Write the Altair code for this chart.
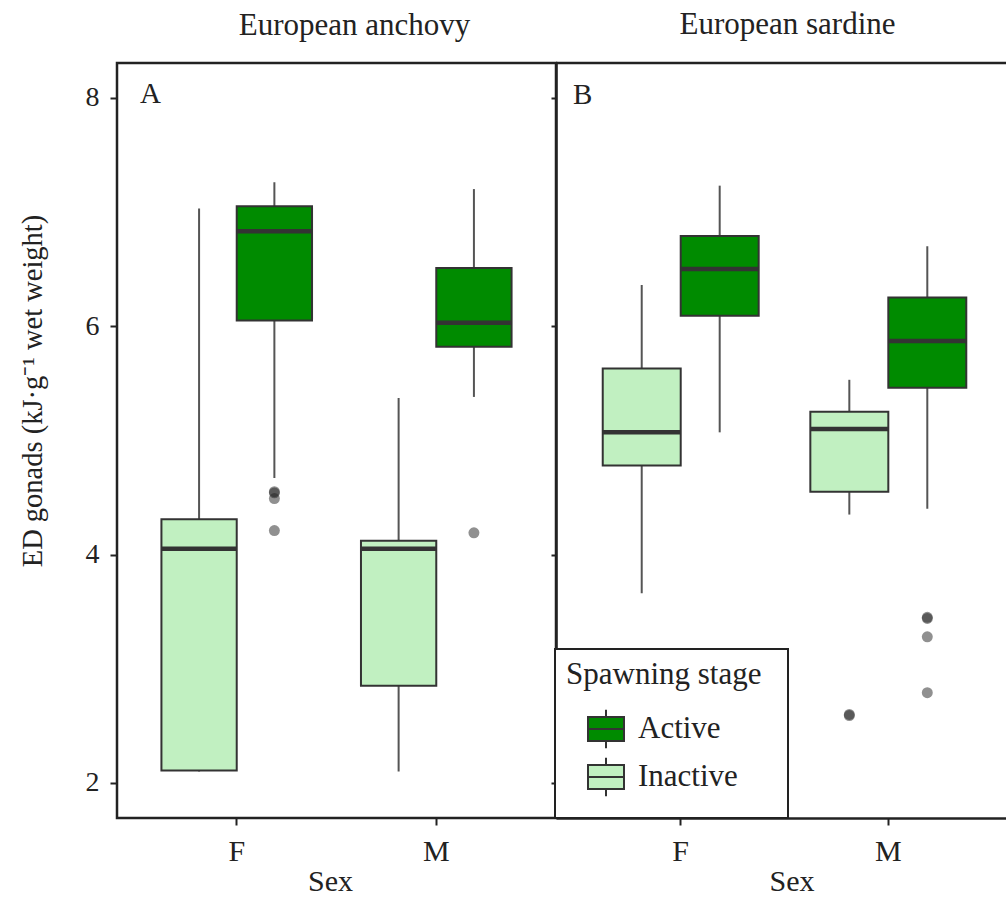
import altair as alt
import pandas as pd

FONT = "Liberation Serif"
INK = "#222222"

species_names = ["European anchovy", "European sardine"]
panel_letters = ["A", "B"]
sex_levels = ["F", "M"]
stage_levels = ["Inactive", "Active"]
legend_order = ["Active", "Inactive"]
stage_colors = ["#008B00", "#C1F0C1"]

box_species = ["European anchovy"] * 4 + ["European sardine"] * 4
box_sex = ["F", "F", "M", "M", "F", "F", "M", "M"]
box_stage = ["Inactive", "Active", "Inactive", "Active"] * 2
whisker_low = [2.10, 4.67, 2.10, 5.38, 3.66, 5.07, 4.35, 4.40]
quart_1 = [2.11, 6.05, 2.85, 5.82, 4.78, 6.09, 4.55, 5.46]
medians = [4.05, 6.83, 4.05, 6.03, 5.07, 6.50, 5.10, 5.87]
quart_3 = [4.31, 7.05, 4.12, 6.51, 5.63, 6.79, 5.25, 6.25]
whisker_high = [7.03, 7.26, 5.37, 7.20, 6.36, 7.23, 5.53, 6.70]

out_species = ["European anchovy"] * 5 + ["European sardine"] * 6
out_sex = ["F", "F", "F", "F", "M", "M", "M", "M", "M", "M", "M"]
out_stage = ["Active"] * 5 + ["Inactive", "Inactive", "Active", "Active", "Active", "Active"]
out_value = [4.55, 4.54, 4.49, 4.21, 4.19, 2.60, 2.59, 3.45, 3.44, 3.28, 2.79]

y_ticks = [2, 4, 6, 8]
y_domain = [1.693, 8.304]
y_title = "ED gonads (kJ·g⁻¹ wet weight)"

box_df = pd.DataFrame({
    "Species": box_species, "Sex": box_sex, "Stage": box_stage,
    "lo": whisker_low, "q1": quart_1, "med": medians, "q3": quart_3, "hi": whisker_high,
})
out_df = pd.DataFrame({"Species": out_species, "Sex": out_sex, "Stage": out_stage, "value": out_value})

LEGEND_SYMBOL = "M-1,-0.667H1V0.667H-1Z M-1,0H1 M0,-0.667V-1.07 M0,0.667V1.07"


def panel(idx, width, pad_outer, align, xoff_pad, box_w, header_x, header_y,
          letter_x, letter_y, sex_title_x, first):
    sp = species_names[idx]
    boxes = box_df[box_df.Species == sp]
    outs = out_df[out_df.Species == sp]

    xs = alt.Scale(domain=sex_levels, paddingInner=0.2, paddingOuter=pad_outer,
                   align=align, round=False)
    xo = alt.Scale(domain=stage_levels, paddingInner=0, paddingOuter=xoff_pad, round=False)
    ys = alt.Scale(domain=y_domain, nice=False, zero=False)

    x_axis = alt.Axis(
        title="Sex", titleFont=FONT, titleFontSize=30, titleFontWeight="normal",
        titleColor=INK, titleX=sex_title_x, titleY=72, titleBaseline="alphabetic",
        titleAlign="center", labelFont=FONT, labelFontSize=30, labelColor=INK,
        labelAngle=0, labelPadding=11, tickSize=7, tickWidth=2, tickColor=INK,
        domain=not first, domainColor=INK, domainWidth=2.5, grid=False,
    )
    if first:
        y_axis = alt.Axis(
            values=y_ticks, format="d", title=y_title, titleFont=FONT, titleFontSize=28.5,
            titleFontWeight="normal", titleColor=INK, titleX=-76, titleY=327.5,
            titleAngle=270, titleBaseline="alphabetic", titleAlign="center",
            labelFont=FONT, labelFontSize=28, labelColor=INK, labelPadding=11,
            tickSize=7, tickWidth=2, tickColor=INK, domain=False, grid=False,
        )
    else:
        y_axis = alt.Axis(
            values=y_ticks, title=None, labels=False, tickSize=5, tickWidth=2,
            tickColor=INK, domain=True, domainColor=INK, domainWidth=2.5, grid=False,
        )

    X = alt.X("Sex:N", scale=xs, axis=x_axis, sort=sex_levels)
    XO = alt.XOffset("Stage:N", scale=xo, sort=stage_levels)

    def Y(field):
        return alt.Y(field, type="quantitative", scale=ys, axis=y_axis)

    whiskers = alt.Chart(boxes).mark_rule(color="#555555", strokeWidth=2, opacity=1).encode(
        x=X, xOffset=XO, y=Y("lo"), y2="hi:Q")

    if first:
        legend = None
    else:
        legend = alt.Legend(
            title="Spawning stage", orient="none", legendX=-1, legendY=586,
            titleFont=FONT, titleFontSize=31, titleFontWeight="normal", titleColor=INK,
            titleLimit=400, labelLimit=300,
            labelFont=FONT, labelFontSize=31, labelColor=INK,
            symbolType=LEGEND_SYMBOL, symbolSize=1296, symbolStrokeColor="#333333",
            symbolStrokeWidth=2, symbolOpacity=1, padding=11, titlePadding=19,
            rowPadding=0, labelOffset=13, symbolOffset=21,
        )
    color = alt.Color("Stage:N", scale=alt.Scale(domain=legend_order, range=stage_colors),
                      legend=legend)

    bx = alt.Chart(boxes).mark_bar(stroke="#333333", strokeWidth=2, opacity=1).encode(
        x=X, xOffset=XO, y=Y("q1"), y2="q3:Q", color=color)

    med = alt.Chart(boxes).mark_tick(color="#333333", thickness=4.5, size=box_w,
                                     opacity=1).encode(
        x=X, xOffset=XO, y=Y("med"))

    pts = alt.Chart(outs).mark_circle(size=120, color="#222222", opacity=0.5).encode(
        x=X, xOffset=XO, y=Y("value"))

    header = alt.Chart(pd.DataFrame({"label": [sp]})).mark_text(
        font=FONT, fontSize=31, color=INK, align="center", baseline="alphabetic"
    ).encode(text="label:N", x=alt.value(header_x), y=alt.value(header_y))

    letter = alt.Chart(pd.DataFrame({"label": [panel_letters[idx]]})).mark_text(
        font=FONT, fontSize=29, color=INK, align="left", baseline="alphabetic"
    ).encode(text="label:N", x=alt.value(letter_x), y=alt.value(letter_y))

    layers = [whiskers, bx, med, pts, header, letter]
    if first:
        view = alt.ViewBackground(stroke=INK, strokeWidth=2.5)
    else:
        dummy = pd.DataFrame({"k": [0]})
        top_line = alt.Chart(dummy).mark_rule(color=INK, strokeWidth=2.5).encode(
            x=alt.value(0), x2=alt.value(width), y=alt.value(0))
        leg_box = alt.Chart(dummy).mark_rect(fill="white", stroke=INK, strokeWidth=2).encode(
            x=alt.value(-1), x2=alt.value(232), y=alt.value(586), y2=alt.value(755))
        layers = [leg_box] + layers + [top_line]
        view = alt.ViewBackground(strokeOpacity=0)

    return alt.layer(*layers).properties(width=width, height=755, view=view)


pA = panel(0, 439, 0.2, 0.5, 0.06, 75, 237.5, -28, 23, 40, 213, True)
pB = panel(1, 450, 0.1838, 0.546, 0.065, 78, 231.5, -29, 17, 41, 235.5, False)

chart = alt.hconcat(pA, pB, spacing=0, bounds="flush").resolve_scale(
    x="independent", xOffset="independent"
).resolve_legend(color="independent").properties(
    autosize=alt.AutoSizeParams(type="none"),
    padding={"left": 117, "top": 63, "right": 889, "bottom": 834},
).configure(background="white")

chart.save("out.html", embed_options={"renderer": "svg", "actions": False})
